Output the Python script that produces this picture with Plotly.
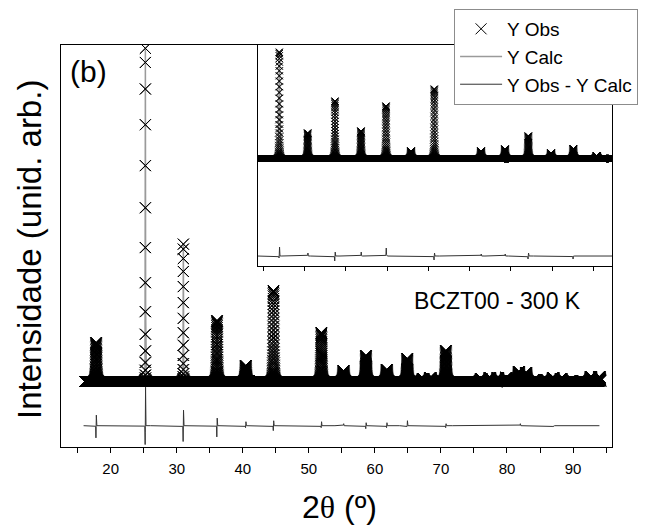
import numpy as np
import plotly.graph_objects as go

# ---------------- data ----------------
# Main pattern (2theta in degrees, intensity in arbitrary units)
main_range = [16.05, 94.15]
main_step = 0.005
main_background = 65.5
main_peak_pos = [17.8, 25.2525, 31.0025, 36.1, 40.45, 44.65, 51.9, 55.25, 58.65, 61.8,
                 64.9, 67.3, 68.4, 70.75, 76.1, 77.4, 78.6, 79.9, 81.8, 82.9,
                 84.4, 85.7, 87.0, 88.2, 89.7, 91.3, 92.7, 94.0]
main_peak_height = [39, 335, 138, 61, 16, 91, 49, 11, 26, 12,
                    23, 3, 4, 31, 3, 4, 4, 4, 10, 9,
                    2, 2, 4, 3, 1, 1, 5, 5]
main_peak_sigma = [0.07, 0.024, 0.026, 0.07, 0.07, 0.07, 0.07, 0.07, 0.07, 0.07,
                   0.07, 0.07, 0.07, 0.07, 0.07, 0.07, 0.07, 0.07, 0.07, 0.07,
                   0.07, 0.07, 0.07, 0.07, 0.07, 0.07, 0.07, 0.07]

# Difference curve (Y Obs - Y Calc), offset below the pattern
diff_range = [15.9, 94.0]
diff_offset = 21.3
diff_pos = [17.8, 25.25, 31.0, 36.1, 40.45, 44.65, 51.9, 55.25, 58.65, 61.8, 64.9, 70.75, 82.0, 87.0]
diff_up = [10.7, 38.7, 15.7, 7.7, 4, 5, 4, 2, 3, 3, 5, 2, 2, 0]
diff_down = [12.3, 19.3, 16, 11.3, 2, 5, 2, 0, 3, 2, 1, 2, 0, 1]

# Inset pattern
inset_range = [18.6, 104.6]
inset_step = 0.008
inset_background = 107.5
inset_peak_pos = [23.88, 30.76, 37.38, 43.68, 49.75, 55.81, 61.45, 72.78, 78.59, 84.24, 89.75, 95.15, 100.82]
inset_peak_height = [106.5, 25.5, 57.5, 27.5, 52.5, 7.5, 69.5, 7.5, 9.5, 22.5, 5.5, 9.8, 2.8]
inset_peak_sigma = [0.09] * 13
inset_diff_offset = 10
inset_diff_pos = [23.88, 30.76, 37.38, 43.68, 49.75, 61.45, 72.78, 78.59, 84.24, 95.15]
inset_diff_up = [9, 3, 4, 4, 8, 3, 2, 2, 3, 0]
inset_diff_down = [2, 0, 5, 0, 0, 4, 0, 0, 3, 3]

main_xticks = [20, 30, 40, 50, 60, 70, 80, 90]


def profile(x, pos, hgt, sig, bg):
    y = np.full_like(x, bg, dtype=float)
    for p, h, s in zip(pos, hgt, sig):
        y += h * np.exp(-0.5 * ((x - p) / s) ** 2)
    return y


def diffcurve(x, pos, up, down, off, sig, d):
    y = np.full_like(x, off, dtype=float)
    for p, u, dn in zip(pos, up, down):
        y += u * np.exp(-0.5 * ((x - p - d) / sig) ** 2)
        y -= dn * np.exp(-0.5 * ((x - p + d) / sig) ** 2)
    return y


x_main = np.arange(main_range[0], main_range[1], main_step)
y_main = profile(x_main, main_peak_pos, main_peak_height, main_peak_sigma, main_background)
x_diff = np.arange(diff_range[0], diff_range[1], main_step)
y_diff = diffcurve(x_diff, diff_pos, diff_up, diff_down, diff_offset, 0.02, 0.03)

x_in = np.arange(inset_range[0], inset_range[1], inset_step)
y_in = profile(x_in, inset_peak_pos, inset_peak_height, inset_peak_sigma, inset_background)
y_in_diff = diffcurve(x_in, inset_diff_pos, inset_diff_up, inset_diff_down, inset_diff_offset, 0.04, 0.06)

FONT = "Liberation Sans, Arial, sans-serif"
fig = go.Figure()

# main
fig.add_trace(go.Scatter(x=x_main, y=y_main, mode="lines", name="Y Calc", legendrank=2,
                         line=dict(color="#9a9a9a", width=1.5)))
fig.add_trace(go.Scatter(x=x_main, y=y_main, mode="markers", name="Y Obs", legendrank=1,
                         marker=dict(symbol="x-thin", size=11, color="black",
                                     line=dict(color="black", width=1))))
fig.add_trace(go.Scatter(x=x_diff, y=y_diff, mode="lines", name="Y Obs - Y Calc", legendrank=3,
                         line=dict(color="#333333", width=1)))
# inset
fig.add_trace(go.Scatter(x=x_in, y=y_in, mode="lines", xaxis="x2", yaxis="y2", showlegend=False,
                         line=dict(color="#9a9a9a", width=1.2)))
fig.add_trace(go.Scatter(x=x_in, y=y_in, mode="markers", xaxis="x2", yaxis="y2", showlegend=False,
                         marker=dict(symbol="x-thin", size=7, color="black",
                                     line=dict(color="black", width=0.8))))
fig.add_trace(go.Scatter(x=x_in, y=y_in_diff, mode="lines", xaxis="x2", yaxis="y2", showlegend=False,
                         line=dict(color="#333333", width=1)))

fig.update_layout(
    width=645, height=528,
    margin=dict(l=61, r=33, t=45, b=81, autoexpand=False),
    paper_bgcolor="white", plot_bgcolor="white",
    font=dict(family=FONT, color="black"),
    showlegend=True,
    xaxis=dict(range=[12.48, 95.9], tickvals=main_xticks, ticks="outside", ticklen=5,
               tickwidth=1, tickcolor="black", tickfont=dict(size=15), ticklabelstandoff=3,
               minor=dict(dtick=5, tick0=0, ticks="outside", ticklen=5, tickwidth=1, tickcolor="black"),
               showline=True, linewidth=1.3, linecolor="black", mirror=True,
               showgrid=False, zeroline=False),
    yaxis=dict(range=[0, 402], showticklabels=False, ticks="",
               showline=True, linewidth=1.3, linecolor="black", mirror=True,
               showgrid=False, zeroline=False),
    xaxis2=dict(domain=[0.3575, 1], anchor="y2", range=[18.715, 104.53],
                tick0=0, dtick=10, ticks="outside", ticklen=4, tickwidth=1, tickcolor="black",
                showticklabels=False, showline=True, linewidth=1, linecolor="black",
                showgrid=False, zeroline=False),
    yaxis2=dict(domain=[0.4502, 1], anchor="x2", range=[0, 221],
                showticklabels=False, ticks="", showline=True, linewidth=1, linecolor="black",
                showgrid=False, zeroline=False),
    legend=dict(xref="container", yref="container", x=0.704, y=0.983,
                xanchor="left", yanchor="top", bgcolor="white", itemwidth=42,
                bordercolor="#8c8c8c", borderwidth=1, font=dict(size=19)),
    annotations=[
        dict(text="(b)", xref="paper", yref="paper", x=(68 - 61) / 551, y=(447 - 71) / 402,
             xanchor="left", yanchor="middle", showarrow=False, font=dict(size=30)),
        dict(text="BCZT00 - 300 K", xref="paper", yref="paper", x=(497.5 - 61) / 551,
             y=(447 - 300.5) / 402, xanchor="center", yanchor="middle", showarrow=False,
             font=dict(size=23)),
        dict(text="2<span style='font-family:Liberation Serif'>θ</span> (º)", xref="paper", yref="paper",
             x=(339 - 61) / 551, y=(447 - 507) / 402, xanchor="center", yanchor="middle",
             showarrow=False, font=dict(size=32)),
        dict(text="Intensidade (unid. arb.)", xref="paper", yref="paper", textangle=-90,
             x=(30 - 61) / 551, y=(447 - 250) / 402, xanchor="center", yanchor="middle",
             showarrow=False, font=dict(size=33)),
    ],
)

fig.write_html("out.html")
